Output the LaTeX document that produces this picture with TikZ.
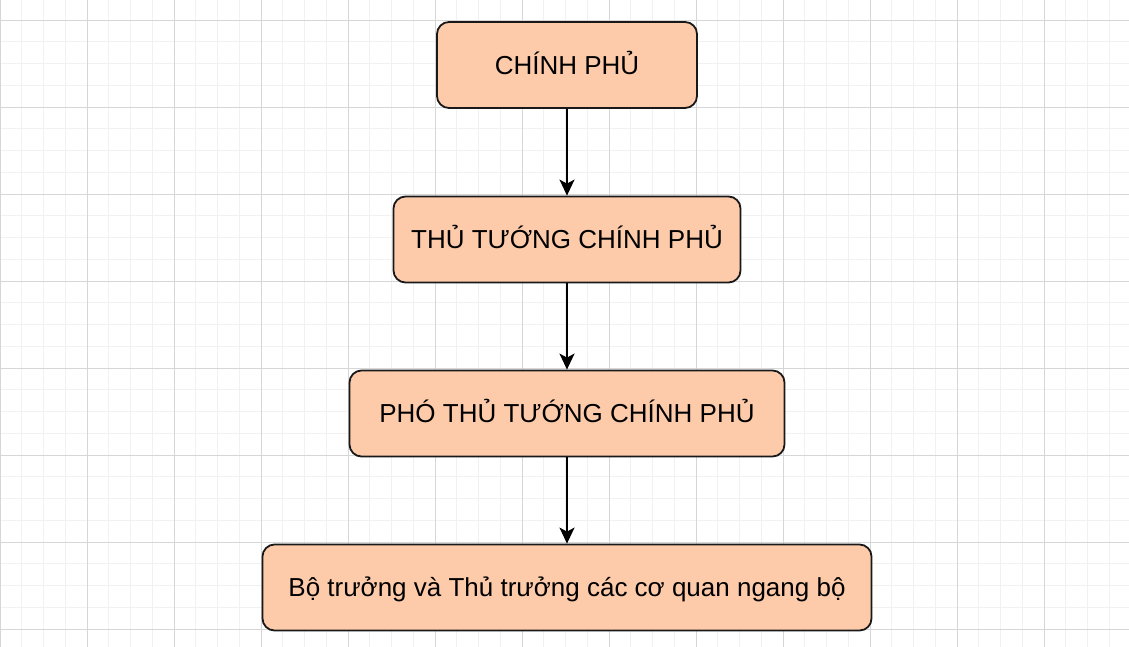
\documentclass[tikz,border=0pt]{standalone}
\usepackage{fontspec}
\setmainfont{Liberation Sans}
\usetikzlibrary{arrows.meta}
\definecolor{peach}{HTML}{FDCBAA}
\definecolor{minorline}{HTML}{F1F1F1}
\definecolor{majorline}{HTML}{D6D6D6}
\begin{document}
\begin{tikzpicture}[x=1pt,y=-1pt,
  box/.style={rectangle,draw=black!90,fill=peach,line width=1.8pt,rounded corners=12pt,
    minimum height=86pt,inner sep=0pt,font=\fontsize{26pt}{30pt}\selectfont,
    text height=18.7pt,text depth=0pt},
  flow/.style={line width=2pt,-{Stealth[length=16pt,width=15pt,inset=4pt]}}]
\useasboundingbox (0,0) rectangle (1129,647);
\fill[white] (0,0) rectangle (1129,647);
% grid
\begin{scope}
\clip (0,0) rectangle (1129,647);
\foreach \i in {0,...,52} \draw[minorline,line width=0.8pt] (\i*21.75,0) -- (\i*21.75,647);
\foreach \j in {-1,...,29} \draw[minorline,line width=0.8pt] (0,20+\j*21.75) -- (1129,20+\j*21.75);
\foreach \i in {0,...,13} \draw[majorline,line width=0.9pt] (\i*87,0) -- (\i*87,647);
\foreach \j in {0,...,7} \draw[majorline,line width=0.9pt] (0,20+\j*87) -- (1129,20+\j*87);
\end{scope}

\node (cp) [box,minimum width=260pt] at (567,65) {CHÍNH PHỦ};
\node (ttg) [box,minimum width=347pt] at (567,239.5) {THỦ TƯỚNG CHÍNH PHỦ};
\node (ptt) [box,minimum width=435pt] at (567,413.5) {PHÓ THỦ TƯỚNG CHÍNH PHỦ};
\node (bt) [box,minimum width=609pt] at (567,587.5) {Bộ trưởng và Thủ trưởng các cơ quan ngang bộ};

\draw [flow] (cp) -- (ttg);
\draw [flow] (ttg) -- (ptt);
\draw [flow] (ptt) -- (bt);
\end{tikzpicture}
\end{document}
